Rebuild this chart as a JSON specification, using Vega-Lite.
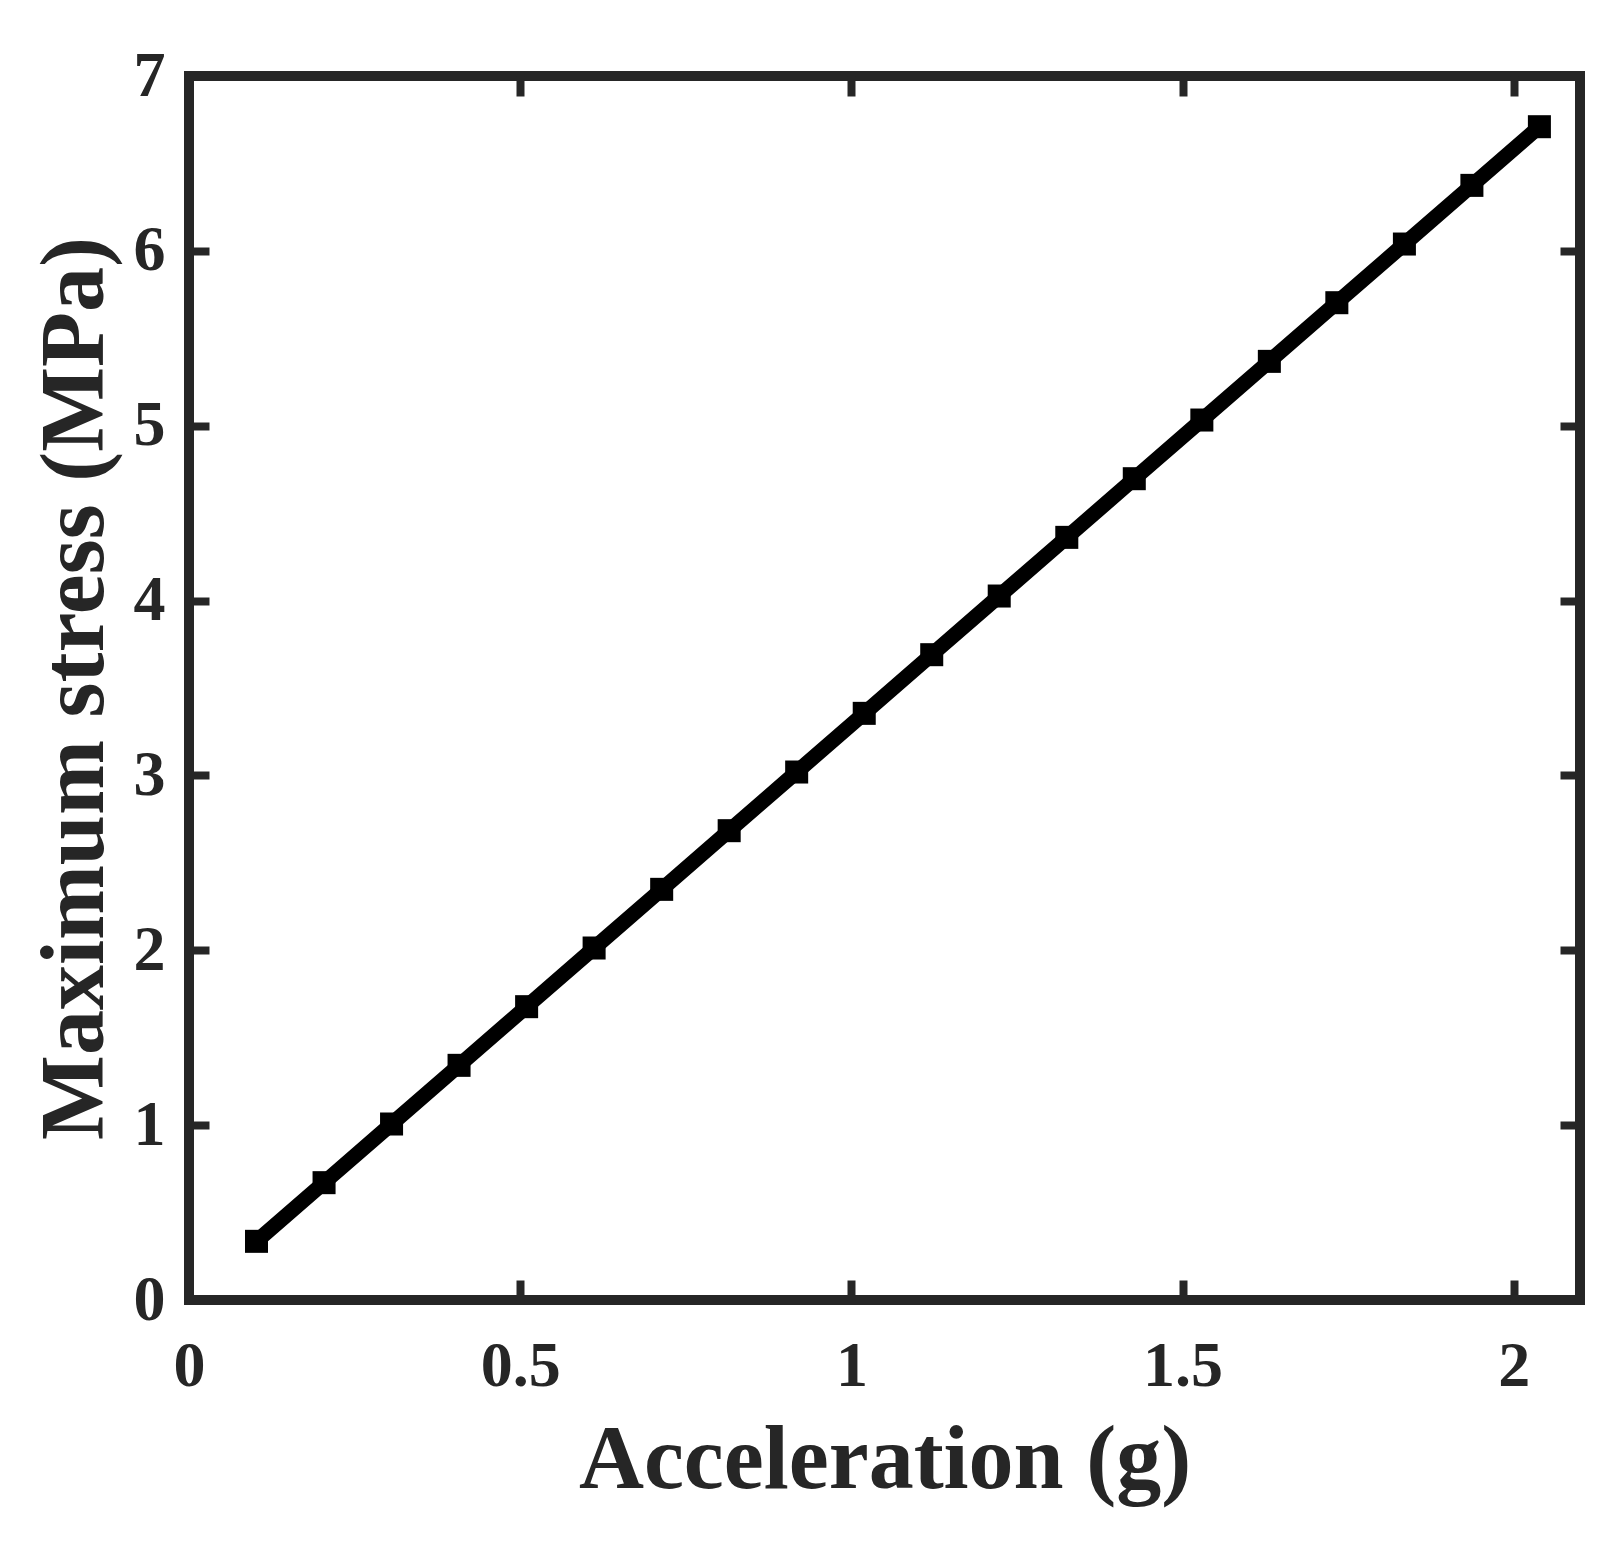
{
  "$schema": "https://vega.github.io/schema/vega-lite/v6.json",
  "autosize": {"type": "none"},
  "padding": {"left": 189, "top": 76, "right": 41, "bottom": 264},
  "width": 1391,
  "height": 1224,
  "background": "white",
  "config": {
    "view": {"stroke": "#262626", "strokeWidth": 10},
    "font": "Liberation Serif",
    "axis": {
      "domain": false,
      "grid": false,
      "tickColor": "#262626",
      "tickWidth": 8,
      "tickSize": -20,
      "labelFont": "Liberation Serif",
      "labelFontWeight": "bold",
      "labelFontSize": 64,
      "labelColor": "#262626",
      "labelFlush": false,
      "labelOverlap": false,
      "titleFont": "Liberation Serif",
      "titleFontWeight": "bold",
      "titleFontSize": 90,
      "titleColor": "#262626"
    }
  },
  "data": {
    "values": [
      {"a": 0.1019, "s": 0.3355},
      {"a": 0.2039, "s": 0.671},
      {"a": 0.3058, "s": 1.0065},
      {"a": 0.4077, "s": 1.342},
      {"a": 0.5097, "s": 1.6775},
      {"a": 0.6116, "s": 2.013},
      {"a": 0.7136, "s": 2.3485},
      {"a": 0.8155, "s": 2.684},
      {"a": 0.9174, "s": 3.0195},
      {"a": 1.0194, "s": 3.355},
      {"a": 1.1213, "s": 3.6905},
      {"a": 1.2232, "s": 4.026},
      {"a": 1.3252, "s": 4.3615},
      {"a": 1.4271, "s": 4.697},
      {"a": 1.5291, "s": 5.0325},
      {"a": 1.631, "s": 5.368},
      {"a": 1.7329, "s": 5.7035},
      {"a": 1.8349, "s": 6.039},
      {"a": 1.9368, "s": 6.3745},
      {"a": 2.0387, "s": 6.71}
    ]
  },
  "layer": [
    {
      "mark": {"type": "line", "color": "black", "strokeWidth": 15, "clip": true},
      "encoding": {
        "x": {
          "field": "a", "type": "quantitative",
          "scale": {"domain": [0, 2.1], "nice": false, "zero": false},
          "axis": {
            "orient": "bottom", "values": [0, 0.5, 1, 1.5, 2], "format": "~g",
            "labelPadding": 105, "labelBaseline": "alphabetic",
            "title": "Acceleration (g)", "titleBaseline": "alphabetic",
            "titleY": 187, "titleX": 695.5, "titleAlign": "center"
          }
        },
        "y": {
          "field": "s", "type": "quantitative",
          "scale": {"domain": [0, 7], "nice": false},
          "axis": {
            "orient": "left", "values": [0, 1, 2, 3, 4, 5, 6, 7], "format": "~g",
            "labelPadding": 44,
            "title": "Maximum stress (MPa)", "titleBaseline": "alphabetic",
            "titleAngle": -90, "titleX": -87, "titleY": 612, "titleAlign": "center"
          }
        }
      }
    },
    {
      "mark": {"type": "point", "shape": "square", "filled": true, "color": "black", "opacity": 1, "size": 530},
      "encoding": {
        "x": {
          "field": "a", "type": "quantitative",
          "axis": {"orient": "top", "values": [0, 0.5, 1, 1.5, 2], "labels": false, "title": null}
        },
        "y": {
          "field": "s", "type": "quantitative",
          "axis": {"orient": "right", "values": [0, 1, 2, 3, 4, 5, 6, 7], "labels": false, "title": null}
        }
      }
    }
  ],
  "resolve": {"axis": {"x": "independent", "y": "independent"}}
}
